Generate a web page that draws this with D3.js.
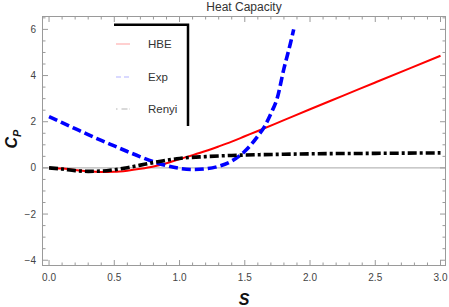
<!DOCTYPE html>
<html>
<head>
<meta charset="utf-8">
<script src="https://cdnjs.cloudflare.com/ajax/libs/d3/7.8.5/d3.min.js"></script>
<style>
  body { margin: 0; background: #fff; }
  svg { display: block; font-family: "Liberation Sans", Arial, sans-serif; }
</style>
</head>
<body>
<svg id="chart"></svg>
<script>
var w = 449;
var h = 307;

// data
var hbeS = [0, 0.1, 0.2, 0.3, 0.4, 0.5, 0.6, 0.7, 0.8, 0.9, 1.0, 1.1, 1.2, 1.3, 1.4, 1.5, 1.6, 1.8, 2.0, 2.25, 2.5, 2.75, 3.0];
var hbeC = [0, -0.03, -0.09, -0.15, -0.18, -0.17, -0.12, -0.04, 0.06, 0.2, 0.38, 0.55, 0.73, 0.93, 1.14, 1.37, 1.6, 2.07, 2.54, 3.12, 3.7, 4.28, 4.86];

var expS = [0, 0.1, 0.2, 0.3, 0.4, 0.5, 0.6, 0.7, 0.8, 0.9, 1.0, 1.1, 1.2, 1.3, 1.4, 1.5, 1.55, 1.6, 1.65, 1.7, 1.75, 1.8, 1.85, 1.875];
var expC = [2.22, 1.96, 1.7, 1.44, 1.19, 0.95, 0.71, 0.48, 0.27, 0.1, -0.02, -0.07, -0.04, 0.07, 0.3, 0.72, 1.02, 1.38, 1.78, 2.35, 3.05, 4.3, 5.4, 6.0];

var renyiS = [0, 0.1, 0.2, 0.3, 0.4, 0.5, 0.6, 0.7, 0.8, 0.9, 1.0, 1.2, 1.4, 1.6, 1.8, 2.0, 2.5, 3.0];
var renyiC = [0, -0.05, -0.12, -0.15, -0.14, -0.08, 0.01, 0.12, 0.23, 0.33, 0.41, 0.49, 0.54, 0.57, 0.59, 0.61, 0.63, 0.65];

var xTicks = [0, 0.5, 1.0, 1.5, 2.0, 2.5, 3.0];
var yTicks = [-4, -2, 0, 2, 4, 6];
var legendNames = ["HBE", "Exp", "Renyi"];

var series = [
  {name: "HBE", s: hbeS, c: hbeC, color: "#ff0000", width: 2, dash: null},
  {name: "Exp", s: expS, c: expC, color: "#0000ff", width: 3.6, dash: "9,4"},
  {name: "Renyi", s: renyiS, c: renyiC, color: "#000000", width: 3.6, dash: "9,3,3,3"}
];

var m = {left: 42, right: 3, top: 16, bottom: 41};

var svg = d3.select("#chart")
  .attr("width", w)
  .attr("height", h);

var x = d3.scaleLinear().domain([-0.054, 3.042]).range([m.left, w - m.right]);
var y = d3.scaleLinear().domain([-4.25, 6.58]).range([h - m.bottom, m.top]);

svg.append("defs").append("clipPath").attr("id", "clip")
  .append("rect")
  .attr("x", m.left).attr("y", m.top)
  .attr("width", w - m.left - m.right)
  .attr("height", h - m.top - m.bottom);

// zero line
svg.append("line")
  .attr("x1", m.left).attr("x2", w - m.right)
  .attr("y1", y(0)).attr("y2", y(0))
  .attr("stroke", "#a6a6a6")
  .attr("stroke-width", 1);

// curves
var line = d3.line()
  .x(function(d) { return x(d[0]); })
  .y(function(d) { return y(d[1]); })
  .curve(d3.curveMonotoneX);

svg.append("g").attr("clip-path", "url(#clip)")
  .selectAll("path")
  .data(series)
  .enter()
  .append("path")
  .attr("d", function(d) { return line(d3.zip(d.s, d.c)); })
  .attr("fill", "none")
  .attr("stroke", function(d) { return d.color; })
  .attr("stroke-width", function(d) { return d.width; })
  .attr("stroke-dasharray", function(d) { return d.dash; });

// frame with inward ticks
var frameColor = "#9a9a9a";
var xMinor = d3.range(0, 3.001, 0.1);
var yMinor = d3.range(-4, 6.501, 0.5);

function isMajor(v, list) {
  return list.some(function(t) { return Math.abs(t - v) < 1e-6; });
}

var frame = svg.append("g");
frame.append("rect")
  .attr("x", m.left + 0.5).attr("y", m.top + 0.5)
  .attr("width", w - m.left - m.right - 1)
  .attr("height", h - m.top - m.bottom - 1)
  .attr("fill", "none")
  .attr("stroke", frameColor);

xMinor.forEach(function(v) {
  var len = isMajor(v, xTicks) ? 6 : 3.5;
  frame.append("line")
    .attr("x1", x(v)).attr("x2", x(v))
    .attr("y1", h - m.bottom).attr("y2", h - m.bottom - len)
    .attr("stroke", frameColor);
  frame.append("line")
    .attr("x1", x(v)).attr("x2", x(v))
    .attr("y1", m.top).attr("y2", m.top + len)
    .attr("stroke", frameColor);
});
yMinor.forEach(function(v) {
  var len = isMajor(v, yTicks) ? 6 : 3.5;
  frame.append("line")
    .attr("x1", m.left).attr("x2", m.left + len)
    .attr("y1", y(v)).attr("y2", y(v))
    .attr("stroke", frameColor);
  frame.append("line")
    .attr("x1", w - m.right).attr("x2", w - m.right - len)
    .attr("y1", y(v)).attr("y2", y(v))
    .attr("stroke", frameColor);
});

// tick labels
svg.append("g")
  .selectAll("text")
  .data(xTicks)
  .enter()
  .append("text")
  .attr("x", function(d) { return x(d); })
  .attr("y", h - m.bottom + 15)
  .attr("text-anchor", "middle")
  .attr("font-size", 10)
  .attr("fill", "#444")
  .text(d3.format(".1f"));

svg.append("g")
  .selectAll("text")
  .data(yTicks)
  .enter()
  .append("text")
  .attr("x", m.left - 6)
  .attr("y", function(d) { return y(d) + 3.5; })
  .attr("text-anchor", "end")
  .attr("font-size", 10)
  .attr("fill", "#444")
  .text(d3.format("d"));

// title and axis labels
svg.append("text")
  .attr("x", (m.left + w - m.right) / 2)
  .attr("y", 11)
  .attr("text-anchor", "middle")
  .attr("font-size", 12)
  .attr("fill", "#333")
  .text("Heat Capacity");

svg.append("text")
  .attr("x", (m.left + w - m.right) / 2)
  .attr("y", 305)
  .attr("text-anchor", "middle")
  .attr("font-size", 16)
  .attr("font-weight", "bold")
  .attr("font-style", "italic")
  .attr("fill", "#111")
  .text("S");

var yl = svg.append("text")
  .attr("transform", "translate(17," + 139 + ") rotate(-90)")
  .attr("text-anchor", "middle")
  .attr("font-weight", "bold")
  .attr("font-style", "italic")
  .attr("fill", "#111");
yl.append("tspan").attr("font-size", 16).text("C");
yl.append("tspan").attr("font-size", 11).attr("dy", 4).text("P");

// legend
var lg = svg.append("g");
lg.append("path")
  .attr("d", "M114,24.7H188V126")
  .attr("fill", "none")
  .attr("stroke", "#000")
  .attr("stroke-width", 2.5);

var legendY = [44, 77, 109];
var legendColor = ["#ffb0b0", "#b4b4ff", "#b4b4b4"];
legendNames.forEach(function(name, i) {
  lg.append("line")
    .attr("x1", 116).attr("x2", 130)
    .attr("y1", legendY[i]).attr("y2", legendY[i])
    .attr("stroke", legendColor[i])
    .attr("stroke-width", 1.2)
    .attr("stroke-dasharray", i === 1 ? "5,3" : (i === 2 ? "1.5,4,6,2" : null));
  lg.append("text")
    .attr("x", 148)
    .attr("y", legendY[i] + 4)
    .attr("font-size", 11.5)
    .attr("fill", "#333")
    .text(name);
});
</script>
</body>
</html>
